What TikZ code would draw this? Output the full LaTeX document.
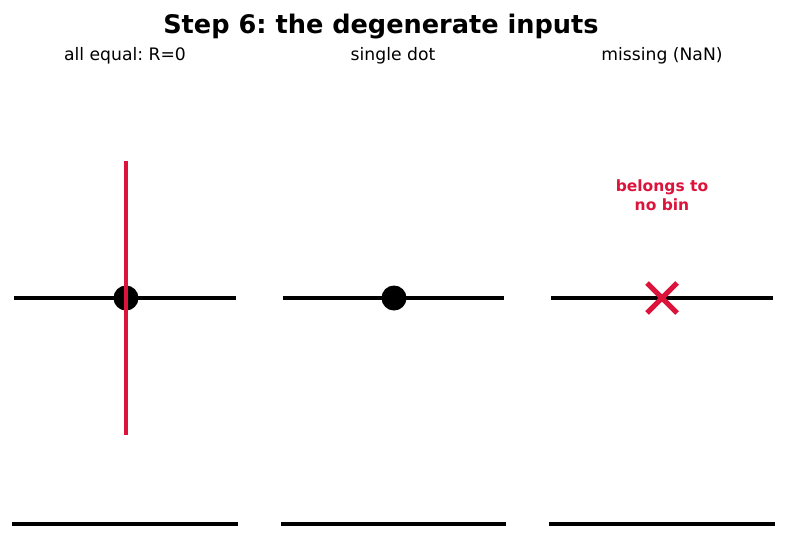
\documentclass[tikz,border=0pt]{standalone}
\usepackage{fontspec}
\setmainfont{DejaVu Sans}
\definecolor{crim}{RGB}{220,20,60}
\begin{document}
\frenchspacing
\begin{tikzpicture}[x=1pt,y=-1pt,
  axisline/.style={line width=4.3pt,black},
  baseline/.style={line width=3.8pt,black},
  panellabel/.style={font=\fontsize{17.2}{20}\selectfont,inner sep=0pt},
  dotmark/.style={circle,fill=black,minimum size=25pt,inner sep=0pt},
  redline/.style={line width=4.2pt,crim}]
\useasboundingbox (0,0) rectangle (787,539);
\node[font=\bfseries\fontsize{25.6}{28}\selectfont,inner sep=0pt] (title) at (381,26.5) {Step 6: the degenerate inputs};
\node[panellabel] (l1) at (125,56) {all equal: R=0};
\node[panellabel] (l2) at (393,56) {single dot};
\node[panellabel] (l3) at (662,56) {missing (NaN)};
% panel 1
\coordinate (a1) at (14,298); \coordinate (b1) at (236,298);
\draw[axisline] (a1) -- (b1);
\coordinate (v1) at (126,161); \coordinate (v2) at (126,435);
\node[dotmark] (d1) at (126,298) {};
\draw[redline] (v1) -- (v2);
% panel 2
\coordinate (a2) at (283,298); \coordinate (b2) at (504,298);
\draw[axisline] (a2) -- (b2);
\node[dotmark] (d2) at (394,298) {};
% panel 3
\coordinate (a3) at (551,298); \coordinate (b3) at (773,298);
\draw[axisline] (a3) -- (b3);
\coordinate (x0) at (662,298);
\draw[line width=5pt,crim] ([shift={(-15,-15)}]x0) -- ([shift={(15,15)}]x0);
\draw[line width=5pt,crim] ([shift={(-15,15)}]x0) -- ([shift={(15,-15)}]x0);
\node[font=\bfseries\fontsize{15.5}{18.5}\selectfont,text=crim,align=center,inner sep=0pt] (nb) at (662,195) {belongs to\\no bin};
% bottom lines
\coordinate (c1) at (12,524); \coordinate (e1) at (238,524);
\coordinate (c2) at (281,524); \coordinate (e2) at (506,524);
\coordinate (c3) at (549,524); \coordinate (e3) at (775,524);
\draw[baseline] (c1) -- (e1);
\draw[baseline] (c2) -- (e2);
\draw[baseline] (c3) -- (e3);
\end{tikzpicture}
\end{document}
